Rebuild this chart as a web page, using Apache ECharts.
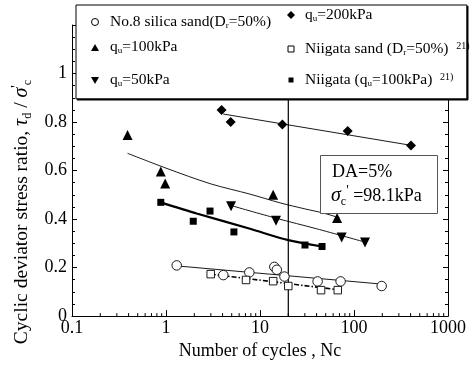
<!DOCTYPE html>
<html><head><meta charset="utf-8">
<script src="https://cdn.jsdelivr.net/npm/echarts@6/dist/echarts.min.js"></script>
<style>html,body{margin:0;padding:0;background:#fff}#c{width:473px;height:365px}</style>
</head><body><div id="c"></div><script>
// Cyclic deviator stress ratio vs number of cycles (DA = 5 %)
const silicaN = [1.3, 4.07, 7.7, 14.2, 15.1, 18.2, 41, 72, 197];
const silicaR = [0.209, 0.169, 0.18, 0.203, 0.191, 0.163, 0.143, 0.143, 0.124];
const silicaFitN = [1.3, 197];
const silicaFitR = [0.207, 0.132];

const qu100N = [0.39, 0.88, 0.98, 13.8, 66];
const qu100R = [0.747, 0.596, 0.547, 0.50, 0.404];
const qu100FitN = [0.39, 1, 3, 7.8, 16.3, 30, 47, 70];
const qu100FitR = [0.671, 0.61, 0.545, 0.503, 0.467, 0.442, 0.425, 0.405];

const qu50N = [4.92, 14.8, 74, 131];
const qu50R = [0.453, 0.393, 0.324, 0.303];
const qu50FitN = [5, 15, 40, 131];
const qu50FitR = [0.455, 0.403, 0.36, 0.305];

const qu200N = [3.9, 4.88, 17.3, 85.7, 404];
const qu200R = [0.85, 0.80, 0.79, 0.763, 0.703];
const qu200FitN = [4.06, 404];
const qu200FitR = [0.833, 0.704];

const niigataSandN = [2.99, 7.1, 13.8, 20, 44.6, 67.2];
const niigataSandR = [0.173, 0.149, 0.144, 0.124, 0.107, 0.107];
const niigataSandFitN = [2.99, 67.2];
const niigataSandFitR = [0.173, 0.109];

const niigataQuN = [0.88, 1.95, 2.94, 5.28, 30.1, 45.7];
const niigataQuR = [0.469, 0.391, 0.433, 0.347, 0.293, 0.287];
const niigataQuFitN = [0.88, 2.12, 7.83, 20, 45.7];
const niigataQuFitR = [0.469, 0.423, 0.36, 0.313, 0.287];

const limitN = [20, 20];
const limitR = [0, 1.2];

const xTicks = [0.1, 1, 10, 100, 1000];
const yTicks = [0, 0.2, 0.4, 0.6, 0.8, 1];

const zip = (a, b) => a.map((v, i) => [v, b[i]]);
const FONT = '"Liberation Serif", "DejaVu Serif", serif';

// minor tick positions 2..9 within each decade of the log axis
const minorTicks = [];
for (let d = 0.1; d < 1000; d *= 10) {
  for (let k = 2; k <= 9; k++) minorTicks.push([+(d * k).toPrecision(3), 0]);
}

// hollow markers are white-filled with a thin black outline
function pts(name, n, r, symbol, size, hollow, rotate) {
  return {
    name, type: 'scatter', data: zip(n, r), symbol, symbolSize: size, symbolRotate: rotate || 0,
    itemStyle: { color: hollow ? '#fff' : '#000', borderColor: '#000', borderWidth: hollow ? 0.9 : 0, opacity: 1 },
    z: 5, silent: true
  };
}
function fit(n, r, width, type, smooth) {
  return {
    type: 'line', data: zip(n, r), showSymbol: false, smooth: smooth ? 0.3 : false,
    lineStyle: { color: '#000', width, type: type || 'solid' }, z: 3, silent: true
  };
}

const chart = echarts.init(document.getElementById('c'));
chart.setOption({
  animation: false,
  backgroundColor: '#fff',
  grid: { left: 72, right: 25, top: 25, bottom: 40 },
  xAxis: {
    type: 'log', logBase: 10, min: 0.1, max: 1000,
    name: 'Number of cycles , Nc', nameLocation: 'middle', nameGap: 20,
    nameTextStyle: { fontFamily: FONT, fontSize: 18, color: '#000' },
    axisLine: { lineStyle: { color: '#000', width: 1 } },
    axisTick: { inside: true, length: 6, lineStyle: { color: '#000' } },
    axisLabel: {
      fontFamily: FONT, fontSize: 18, color: '#000', margin: 3,
      formatter: v => { const t = xTicks.find(x => Math.abs(x - v) / x < 1e-6); return t !== undefined ? String(t) : ''; }
    },
    splitLine: { show: false }
  },
  yAxis: [{
    type: 'value', min: 0, max: 1.2, interval: 0.2,
    axisLine: { show: true, lineStyle: { color: '#000', width: 1 } },
    axisTick: { show: true, inside: true, length: 5, lineStyle: { color: '#000' } },
    minorTick: { show: true, splitNumber: 4, length: 3, lineStyle: { color: '#000' } },
    axisLabel: {
      fontFamily: FONT, fontSize: 18, color: '#000', margin: 5,
      formatter: v => { const t = yTicks.find(y => Math.abs(y - v) < 1e-6); return t !== undefined ? String(t) : ''; }
    },
    splitLine: { show: false }
  }, {
    type: 'value', min: 0, max: 1.2, interval: 0.2, position: 'right',
    axisLine: { show: true, lineStyle: { color: '#000', width: 1 } },
    axisTick: { show: true, inside: true, length: 5, lineStyle: { color: '#000' } },
    minorTick: { show: true, splitNumber: 4, length: 3, lineStyle: { color: '#000' } },
    axisLabel: { show: false }, splitLine: { show: false }
  }],
  series: [
    {
      type: 'custom', data: minorTicks, silent: true, z: 1,
      renderItem: (params, api) => {
        const p = api.coord([api.value(0), 0]);
        return { type: 'line', shape: { x1: p[0], y1: p[1], x2: p[0], y2: p[1] - 3 }, style: { stroke: '#000', lineWidth: 1 } };
      }
    },
    fit(limitN, limitR, 1.2),
    fit(qu200FitN, qu200FitR, 0.9),
    fit(qu100FitN, qu100FitR, 0.9, 'solid', true),
    fit(qu50FitN, qu50FitR, 0.9, 'solid', true),
    fit(niigataQuFitN, niigataQuFitR, 2.2, 'solid', true),
    fit(silicaFitN, silicaFitR, 0.9),
    fit(niigataSandFitN, niigataSandFitR, 1.6, [5, 2, 1.5, 2]),
    pts('No.8 silica sand', silicaN, silicaR, 'circle', 9.5, true),
    pts('qu=100kPa', qu100N, qu100R, 'triangle', 10, false),
    pts('qu=50kPa', qu50N, qu50R, 'triangle', 10, false, 180),
    pts('qu=200kPa', qu200N, qu200R, 'diamond', 10, false),
    pts('Niigata sand', niigataSandN, niigataSandR, 'rect', 7.5, true),
    pts('Niigata qu=100kPa', niigataQuN, niigataQuR, 'rect', 7, false)
  ],
  graphic: [
    // y-axis title
    {
      type: 'text', x: 22, y: 212, rotation: Math.PI / 2, z: 50,
      style: {
        text: 'Cyclic deviator stress ratio, {g|τ}{s|d} / {g|σ}{p|\'}{s|c}',
        fontFamily: FONT, fontSize: 19.5, fill: '#000', align: 'center', verticalAlign: 'middle',
        rich: {
          g: { fontFamily: FONT, fontSize: 20, fontStyle: 'italic', lineHeight: 24 },
          s: { fontFamily: FONT, fontSize: 12, verticalAlign: 'bottom', lineHeight: 12 },
          p: { fontFamily: FONT, fontSize: 14, verticalAlign: 'top', lineHeight: 14 }
        }
      }
    },
    // legend frame
    { type: 'rect', z: 100, shape: { x: 76, y: 5, width: 391, height: 94 }, style: { fill: '#fff', stroke: '#000', lineWidth: 1 } },
    { type: 'line', z: 101, shape: { x1: 77, y1: 99.5, x2: 468, y2: 99.5 }, style: { stroke: '#000', lineWidth: 2 } },
    { type: 'line', z: 101, shape: { x1: 467.5, y1: 6, x2: 467.5, y2: 100 }, style: { stroke: '#000', lineWidth: 2 } },
    // legend markers
    { type: 'circle', z: 101, shape: { cx: 95, cy: 22, r: 3.5 }, style: { fill: '#fff', stroke: '#000', lineWidth: 1 } },
    { type: 'polygon', z: 101, shape: { points: [[95, 44], [99, 51], [91, 51]] }, style: { fill: '#000' } },
    { type: 'polygon', z: 101, shape: { points: [[91, 77], [99, 77], [95, 84]] }, style: { fill: '#000' } },
    { type: 'polygon', z: 101, shape: { points: [[291, 11], [295, 15], [291, 19], [287, 15]] }, style: { fill: '#000' } },
    { type: 'rect', z: 101, shape: { x: 288, y: 46, width: 6, height: 6 }, style: { fill: '#fff', stroke: '#000', lineWidth: 1 } },
    { type: 'rect', z: 101, shape: { x: 288.5, y: 77.5, width: 5, height: 5 }, style: { fill: '#000' } },
    // legend texts
    legendText(110, 22, 'No.8 silica sand(D{s|r}=50%)'),
    legendText(110, 47, 'q{s|u}=100kPa'),
    legendText(110, 80, 'q{s|u}=50kPa'),
    legendText(305, 15, 'q{s|u}=200kPa'),
    legendText(305, 49, 'Niigata sand (D{s|r}=50%)  {p|21)}'),
    legendText(305, 80, 'Niigata (q{s|u}=100kPa)  {p|21)}'),
    // test condition box
    { type: 'rect', z: 60, shape: { x: 320.5, y: 155.5, width: 117, height: 58 }, style: { fill: '#fff', stroke: '#555', lineWidth: 1 } },
    {
      type: 'text', z: 61, x: 332, y: 172,
      style: { text: 'DA=5%', fontFamily: FONT, fontSize: 18, fill: '#000', verticalAlign: 'middle' }
    },
    {
      type: 'text', z: 61, x: 331, y: 196,
      style: {
        text: '{g|σ}{s|c}{p|\'} =98.1kPa', fontFamily: FONT, fontSize: 18, fill: '#000', verticalAlign: 'middle',
        rich: {
          g: { fontFamily: FONT, fontSize: 20, fontStyle: 'italic', lineHeight: 24 },
          s: { fontFamily: FONT, fontSize: 12, verticalAlign: 'bottom', lineHeight: 12 },
          p: { fontFamily: FONT, fontSize: 14, verticalAlign: 'top', lineHeight: 14 }
        }
      }
    }
  ]
});

function legendText(x, y, text) {
  return {
    type: 'text', z: 101, x, y,
    style: {
      text, fontFamily: FONT, fontSize: 15.5, fill: '#000', verticalAlign: 'middle',
      rich: {
        s: { fontFamily: FONT, fontSize: 9, verticalAlign: 'bottom', lineHeight: 9 },
        p: { fontFamily: FONT, fontSize: 10, verticalAlign: 'top', lineHeight: 10 }
      }
    }
  };
}
</script></body></html>
